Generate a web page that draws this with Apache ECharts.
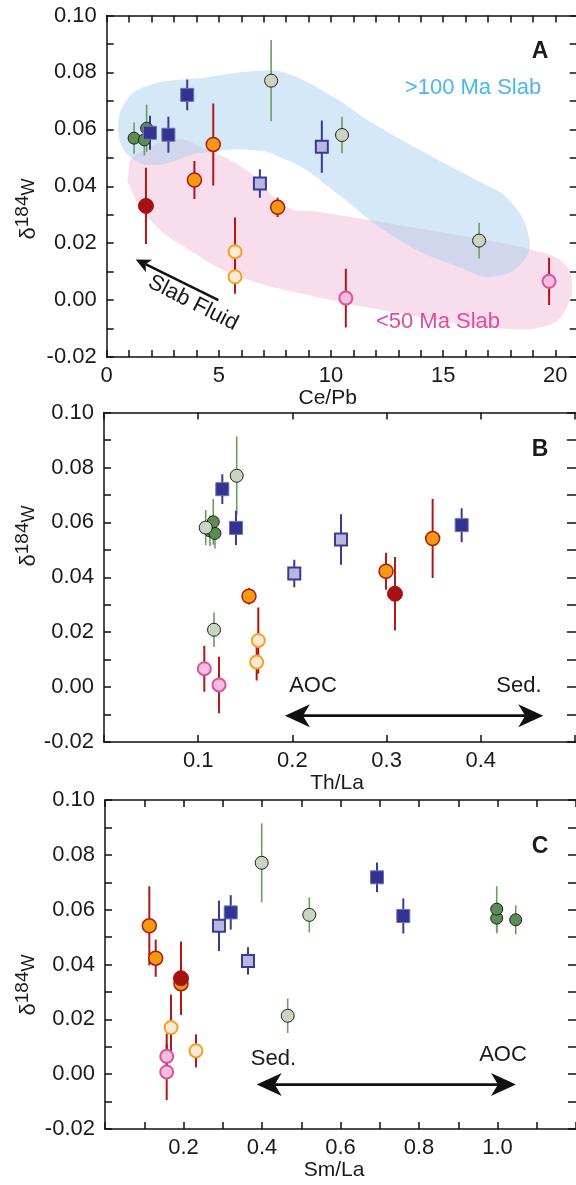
<!DOCTYPE html>
<html>
<head>
<meta charset="utf-8">
<script src="https://cdn.jsdelivr.net/npm/echarts@6/dist/echarts.min.js"></script>
<style>
html,body{margin:0;padding:0;background:#fff;overflow:hidden;}
#chart{width:576px;height:1185px;}
</style>
</head>
<body>
<div id="chart"></div>
<script>
// ---------- DATA: [x, delta184W, error] ----------
// Panel A: Ce/Pb
const A_darkGreen = [[1.22,0.0569,0.0055],[1.68,0.0563,0.0055],[1.78,0.0604,0.0083]];
const A_lightGray = [[7.33,0.0771,0.0143],[10.49,0.0580,0.0064],[16.60,0.0209,0.0063]];
const A_navy      = [[1.93,0.0588,0.0060],[2.75,0.0581,0.0063],[3.59,0.0721,0.0054]];
const A_lavender  = [[6.83,0.0410,0.0050],[9.59,0.0539,0.0092]];
const A_orange    = [[3.91,0.0422,0.0067],[4.75,0.0547,0.0144],[7.62,0.0326,0.0034]];
const A_darkRed   = [[1.75,0.0331,0.0134]];
const A_cream     = [[5.72,0.0170,0.0120],[5.72,0.0082,0.0060]];
const A_pink      = [[10.66,0.0007,0.0103],[19.72,0.0066,0.0083]];
// Panel B: Th/La
const B_darkGreen = [[0.1125,0.0569,0.0055],[0.1178,0.0560,0.0055],[0.1160,0.0602,0.0083]];
const B_lightGray = [[0.1409,0.0770,0.0143],[0.1080,0.0581,0.0064],[0.1168,0.0209,0.0063]];
const B_navy      = [[0.3797,0.0590,0.0062],[0.1401,0.0580,0.0062],[0.1256,0.0721,0.0054]];
const B_lavender  = [[0.2020,0.0414,0.0050],[0.2516,0.0538,0.0092]];
const B_orange    = [[0.2994,0.0422,0.0067],[0.3489,0.0541,0.0144],[0.1539,0.0331,0.0030]];
const B_darkRed   = [[0.3089,0.0340,0.0134]];
const B_cream     = [[0.1638,0.0170,0.0120],[0.1621,0.0091,0.0067]];
const B_pink      = [[0.1221,0.0008,0.0103],[0.1065,0.0067,0.0084]];
// Panel C: Sm/La
const C_darkGreen = [[0.998,0.0569,0.0055],[1.0464,0.0563,0.0053],[0.998,0.0602,0.0084]];
const C_lightGray = [[0.3992,0.0771,0.0144],[0.5205,0.0581,0.0064],[0.4655,0.0213,0.0063]];
const C_navy      = [[0.3203,0.0590,0.0063],[0.7600,0.0577,0.0064],[0.6930,0.0718,0.0054]];
const C_lavender  = [[0.3643,0.0413,0.0050],[0.2904,0.0541,0.0092]];
const C_orange    = [[0.1292,0.0423,0.0068],[0.1129,0.0541,0.0144],[0.1936,0.0330,0.0030]];
const C_darkRed   = [[0.1936,0.0350,0.0134]];
const C_cream     = [[0.1682,0.0170,0.0120],[0.2318,0.0085,0.0060]];
const C_pink      = [[0.1572,0.0008,0.0103],[0.1572,0.0065,0.0083]];

// Field outlines in panel A (Ce/Pb, delta)
const blueField = [[0.52,0.0598],[0.90,0.0703],[1.93,0.0756],[4.16,0.0780],[6.82,0.0806],[8.01,0.0797],
  [10.07,0.0715],[11.86,0.0621],[14.51,0.0504],[16.73,0.0411],[17.93,0.0352],[18.82,0.0223],[18.51,0.0130],
  [17.18,0.0082],[16.01,0.0106],[13.04,0.0211],[10.07,0.0387],[8.90,0.0457],[8.01,0.0492],[6.82,0.0525],
  [4.16,0.0517],[2.23,0.0475],[1.04,0.0504]];
const pinkField = [[1.19,0.0504],[3.12,0.0565],[4.16,0.0539],[6.23,0.0457],[8.01,0.0328],[9.34,0.0311],
  [13.04,0.0264],[16.01,0.0223],[18.97,0.0176],[20.30,0.0135],[20.75,0.0059],[20.45,-0.0035],[19.71,-0.0088],
  [17.49,-0.0099],[13.04,-0.0046],[8.60,0.0024],[5.93,0.0082],[4.16,0.0152],[1.93,0.0281],[0.97,0.0410],[0.97,0.0446]];

// Arrows [x1, y1, x2, y2]
const arrowA = [[4.98, 0.0000, 1.29, 0.0143]];
const arrowB = [[0.1921, -0.0104, 0.4663, -0.0104]];
const arrowC = [[0.3865, -0.0038, 1.047, -0.0038]];

const xAxisNames = ['Ce/Pb', 'Th/La', 'Sm/La'];
const yTickLabels = ['-0.02','0.00','0.02','0.04','0.06','0.08','0.10'];

// ---------- STYLES ----------
const FONT = 'Liberation Sans, Arial, Helvetica, sans-serif';
const TXT = '#1a1a1a';
const RED = '#b01818', NAVYBAR = '#3a3a95', GREENBAR = '#6b9e5e';
const groups = [
  {key:'darkGreen', symbol:'circle', size:12, fill:'#5b8c55', border:'#1e1e1e', bw:1, bar:GREENBAR, bwid:1.6},
  {key:'lightGray', symbol:'circle', size:13, fill:'#c9d4c1', border:'#1e1e1e', bw:1, bar:GREENBAR, bwid:1.6},
  {key:'navy', symbol:'rect', size:13, fill:'#333391', border:'#6f6fb8', bw:1, bar:NAVYBAR, bwid:2},
  {key:'lavender', symbol:'rect', size:12, fill:'#b7b7e0', border:'#3a3a95', bw:2, bar:NAVYBAR, bwid:2},
  {key:'orange', symbol:'circle', size:14, fill:'#f39a10', border:RED, bw:1.5, bar:RED, bwid:2},
  {key:'darkRed', symbol:'circle', size:15, fill:'#a51212', border:'#a51212', bw:1, bar:RED, bwid:2},
  {key:'cream', symbol:'circle', size:13, fill:'#fdebd5', border:'#f5a223', bw:2, bar:RED, bwid:2},
  {key:'pink', symbol:'circle', size:13, fill:'#f0c0de', border:'#e0509e', bw:2, bar:RED, bwid:2}
];
const panelData = [
  {darkGreen:A_darkGreen, lightGray:A_lightGray, navy:A_navy, lavender:A_lavender, orange:A_orange, darkRed:A_darkRed, cream:A_cream, pink:A_pink},
  {darkGreen:B_darkGreen, lightGray:B_lightGray, navy:B_navy, lavender:B_lavender, orange:B_orange, darkRed:B_darkRed, cream:B_cream, pink:B_pink},
  {darkGreen:C_darkGreen, lightGray:C_lightGray, navy:C_navy, lavender:C_lavender, orange:C_orange, darkRed:C_darkRed, cream:C_cream, pink:C_pink}
];

const grids = [
  {left:106.7, top:15.5, width:474, height:341.5, outerBoundsMode:'none', containLabel:false},
  {left:104, top:412.6, width:474, height:329.4, outerBoundsMode:'none', containLabel:false},
  {left:105, top:800, width:474, height:329, outerBoundsMode:'none', containLabel:false}
];
const xCfg = [
  {max:21.13, interval:1, fmt: v => (Math.round(v) % 5 === 0 && Math.round(v) <= 20) ? String(Math.round(v)) : '', namePad:[0,32,0,0]},
  {max:0.5032, interval:0.1, fmt: v => (v > 0.05 && v < 0.45) ? v.toFixed(1) : '', namePad:[0,8,0,0]},
  {max:1.2076, interval:0.1, fmt: v => { const k = Math.round(v*10); return (k % 2 === 0 && k >= 2 && k <= 10) ? v.toFixed(1) : ''; }, namePad:[0,16,0,0]}
];
const yFmt = v => { const k = Math.round(v*100); if (k % 2 !== 0) return ''; const i = (k + 2) / 2; return yTickLabels[i] || ''; };

const lineStyle = {color:'#111', width:1.5};
const xAxes = [], yAxes = [];
grids.forEach((g, p) => {
  const c = xCfg[p];
  xAxes.push({type:'value', gridIndex:p, position:'bottom', min:0, max:c.max, interval:c.interval,
    axisLine:{show:true, onZero:false, lineStyle}, axisTick:{show:true, inside:true, length:7, lineStyle},
    axisLabel:{show:true, formatter:c.fmt, color:TXT, fontSize:22, fontFamily:FONT, margin:8, showMinLabel:true, showMaxLabel:true, hideOverlap:false},
    splitLine:{show:false},
    name:xAxisNames[p], nameLocation:'middle', nameGap:31,
    nameTextStyle:{color:TXT, fontSize:21, fontFamily:FONT, padding:c.namePad}});
  xAxes.push({type:'value', gridIndex:p, position:'top', min:0, max:c.max, interval:c.interval,
    axisLine:{show:true, onZero:false, lineStyle}, axisTick:{show:true, inside:true, length:7, lineStyle},
    axisLabel:{show:false}, splitLine:{show:false}});
  yAxes.push({type:'value', gridIndex:p, position:'left', min:-0.02, max:0.10, interval:0.01,
    axisLine:{show:true, onZero:false, lineStyle}, axisTick:{show:true, inside:true, length:7, lineStyle},
    axisLabel:{show:true, formatter:yFmt, color:TXT, fontSize:22, fontFamily:FONT, margin:10, showMinLabel:true, showMaxLabel:true},
    splitLine:{show:false}});
  yAxes.push({type:'value', gridIndex:p, position:'right', min:-0.02, max:0.10, interval:0.01,
    axisLine:{show:true, onZero:false, lineStyle}, axisTick:{show:true, inside:true, length:11, lineStyle},
    axisLabel:{show:false}, splitLine:{show:false}});
});

const series = [];
function fieldSeries(pts, fill, z) {
  return {type:'custom', xAxisIndex:0, yAxisIndex:0, data:[[pts[0][0], pts[0][1]]], z:z, silent:true, clip:true,
    renderItem: (params, api) => ({type:'polygon', shape:{points: pts.map(pt => api.coord(pt)), smooth:0.45},
      style:{fill:fill, stroke:'none'}})};
}
series.push(fieldSeries(pinkField, '#f8deec', 1));
series.push(fieldSeries(blueField, 'rgba(160,205,237,0.45)', 1));

function arrowSeries(arr, p, doubleHead, headLen, headHalf, notch, lw) {
  return {type:'custom', xAxisIndex:2*p, yAxisIndex:2*p, data:arr, z:5, silent:true, clip:false,
    renderItem: (params, api) => {
      const s = api.coord([api.value(0), api.value(1)]);
      const e = api.coord([api.value(2), api.value(3)]);
      const dx = e[0]-s[0], dy = e[1]-s[1], L = Math.hypot(dx, dy), ux = dx/L, uy = dy/L, nx = -uy, ny = ux;
      function head(tip, dir) {
        const bx = tip[0] - dir[0]*headLen, by = tip[1] - dir[1]*headLen;
        const mx = tip[0] - dir[0]*(headLen - notch), my = tip[1] - dir[1]*(headLen - notch);
        return {type:'polygon', shape:{points:[tip, [bx + nx*headHalf, by + ny*headHalf], [mx, my], [bx - nx*headHalf, by - ny*headHalf]]},
          style:{fill:'#111', stroke:'none'}};
      }
      const children = [];
      const ls = doubleHead ? [s[0] + ux*(headLen-notch), s[1] + uy*(headLen-notch)] : s;
      const le = [e[0] - ux*(headLen-notch), e[1] - uy*(headLen-notch)];
      children.push({type:'line', shape:{x1:ls[0], y1:ls[1], x2:le[0], y2:le[1]}, style:{stroke:'#111', lineWidth:lw}});
      children.push(head(e, [ux, uy]));
      if (doubleHead) children.push(head(s, [-ux, -uy]));
      return {type:'group', children};
    }};
}
series.push(arrowSeries(arrowA, 0, false, 15, 7, 4, 2.5));
series.push(arrowSeries(arrowB, 1, true, 25, 11.5, 7, 2.8));
series.push(arrowSeries(arrowC, 2, true, 25, 11.5, 7, 2.8));

panelData.forEach((pd, p) => {
  groups.forEach(g => {
    const d = pd[g.key];
    series.push({type:'custom', name:g.key+'-err', xAxisIndex:2*p, yAxisIndex:2*p, data:d, z:3, silent:true, clip:true,
      renderItem: (params, api) => {
        const x = api.value(0), y = api.value(1), e = api.value(2);
        const a = api.coord([x, y+e]), b = api.coord([x, y-e]);
        return {type:'line', shape:{x1:a[0], y1:a[1], x2:b[0], y2:b[1]}, style:{stroke:g.bar, lineWidth:g.bwid}};
      }});
  });
  groups.forEach(g => {
    const d = pd[g.key];
    series.push({type:'scatter', name:g.key, xAxisIndex:2*p, yAxisIndex:2*p, data:d.map(r => [r[0], r[1]]), z:4,
      symbol:g.symbol, symbolSize:g.size, silent:true,
      itemStyle:{color:g.fill, borderColor:g.border, borderWidth:g.bw, opacity:1}});
  });
});

const yLabelRich = {
  d:{fontSize:22, fontFamily:FONT, fill:TXT, color:TXT},
  s:{fontSize:19, fontFamily:FONT, fill:TXT, color:TXT, padding:[0,0,12,0]},
  w:{fontSize:18, fontFamily:FONT, fill:TXT, color:TXT}
};
function yLabel(cx, cy) {
  return {type:'text', x:cx, y:cy, rotation:Math.PI/2, z:10,
    style:{text:'{d|δ}{s|184}{w|W}', rich:yLabelRich, align:'center', verticalAlign:'middle', fill:TXT}};
}
function txt(t, x, y, opts) {
  return Object.assign({type:'text', x:x, y:y, z:10,
    style:Object.assign({text:t, fontSize:21, fontFamily:FONT, fill:TXT, align:'center', verticalAlign:'middle'}, (opts||{}).style||{})},
    (opts||{}).el||{});
}

const graphic = [
  yLabel(29, 209), yLabel(29, 536), yLabel(29, 985),
  txt('A', 540, 52, {style:{fontWeight:'bold', fontSize:23}}),
  txt('B', 540, 450, {style:{fontWeight:'bold', fontSize:23}}),
  txt('C', 540, 847, {style:{fontWeight:'bold', fontSize:23}}),
  txt('>100 Ma Slab', 473, 88, {style:{fill:'#4cb6e9', fontSize:22}}),
  txt('<50 Ma Slab', 438, 322, {style:{fill:'#e6489a', fontSize:22}}),
  txt('Slab Fluid', 193, 303, {style:{fontSize:22}, el:{rotation:-27*Math.PI/180}}),
  txt('AOC', 313, 686, {style:{fontSize:22}}),
  txt('Sed.', 519, 686, {style:{fontSize:22}}),
  txt('Sed.', 273.5, 1058.5, {style:{fontSize:22}}),
  txt('AOC', 503, 1055, {style:{fontSize:22}})
];

const chart = echarts.init(document.getElementById('chart'), null, {renderer:'canvas'});
chart.setOption({
  animation:false,
  backgroundColor:'#ffffff',
  grid:grids,
  xAxis:xAxes,
  yAxis:yAxes,
  series:series,
  graphic:graphic
});
</script>
</body>
</html>
